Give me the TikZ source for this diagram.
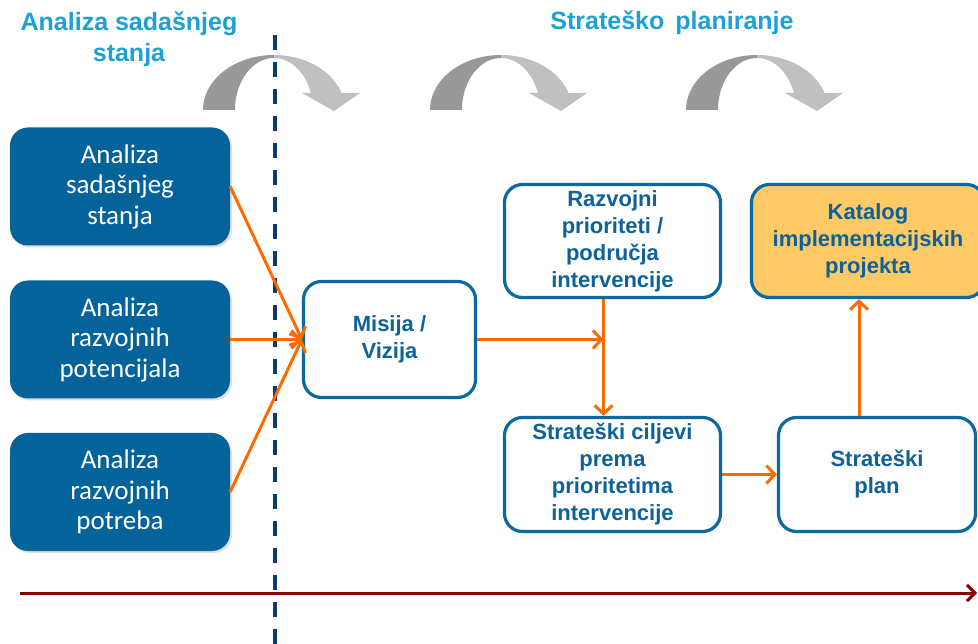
\documentclass[tikz,border=0pt]{standalone}
\usepackage{fontspec}
\setmainfont{Liberation Sans}
\newfontfamily\carlito{Carlito}
\usetikzlibrary{arrows.meta,shadows,calc}
\definecolor{boxdark}{HTML}{05639C}
\definecolor{boxblue}{HTML}{0A69A0}
\definecolor{txtblue}{HTML}{0C6299}
\definecolor{titleblue}{HTML}{1DA1D5}
\definecolor{orng}{HTML}{FF6A00}
\definecolor{axisred}{HTML}{8C0000}
\definecolor{navy}{HTML}{0E3A6C}
\definecolor{katfill}{HTML}{FFC966}
\definecolor{arcdark}{HTML}{999999}
\definecolor{arclight}{HTML}{C0C0C0}
\begin{document}
\begin{tikzpicture}[x=1pt,y=-1pt,
  leftbox/.style={rectangle,rounded corners=18pt,fill=boxdark,text=white,
    font=\carlito\fontsize{27}{30.5}\selectfont,align=center,inner sep=0pt,
    minimum width=220pt,minimum height=118pt,
    drop shadow={shadow xshift=2pt,shadow yshift=-2pt,opacity=0.25}},
  wbox/.style={rectangle,rounded corners=18pt,draw=boxblue,line width=3.2pt,fill=white,
    text=txtblue,font=\bfseries\fontsize{22}{27}\selectfont,align=center,inner sep=0pt},
  title/.style={text=titleblue,font=\bfseries\fontsize{25}{31}\selectfont,align=center,inner sep=0pt},
  oarrow/.style={draw=orng,line width=3pt,-{Straight Barb[length=8.5pt,width=18pt]}},
]
\useasboundingbox (0,0) rectangle (978,644);
\fill[white] (0,0) rectangle (978,644);

% curved arrows
\foreach \cx in {274,501,757}{
  \fill[arcdark] plot[domain=180:270,samples=40] ({\cx+71*cos(\x)},{110+55*sin(\x)})
     -- plot[domain=270:180,samples=40] ({\cx+39*cos(\x)},{110+52*sin(\x)}) -- cycle;
  \fill[arclight] plot[domain=270:342,samples=40] ({\cx+71*cos(\x)},{110+55*sin(\x)})
     -- ({\cx+86},93) -- ({\cx+60},111) -- ({\cx+28},93)
     -- plot[domain=340.9:270,samples=40] ({\cx+39*cos(\x)},{110+52*sin(\x)}) -- cycle;
}

% dashed separator
\coordinate (d1) at (275,35);
\coordinate (d2) at (275,644);
\draw[navy,line width=4pt,dash pattern=on 15pt off 12pt] (d1) -- (d2);

% titles
\node[title] (t1) at (129,39.5) {Analiza sadašnjeg\\stanja};
\node[title] (t2) at (672,23) {Strateško\, planiranje};

% left boxes
\node[leftbox] (L1) at (120,186.5) {Analiza\\sadašnjeg\\stanja};
\node[leftbox] (L2) at (120,339.5) {Analiza\\razvojnih\\potencijala};
\node[leftbox] (L3) at (120,492) {Analiza\\razvojnih\\potreba};

% white boxes
\node[wbox,minimum width=172pt,minimum height=116pt] (mis) at (389.5,339.5) {Misija /\\Vizija};
\node[wbox,minimum width=216pt,minimum height=113pt] (raz) at (612.5,241) {Razvojni\\prioriteti /\\područja\\intervencije};
\node[wbox,minimum width=216pt,minimum height=114pt] (cil) at (612.5,474.5) {Strateški ciljevi\\prema\\prioritetima\\intervencije};
\node[wbox,fill=katfill,minimum width=233pt,minimum height=113pt] (kat) at (868,241) {Katalog\\implementacijskih\\projekta};
\node[wbox,minimum width=197pt,minimum height=114pt] (plan) at (877,474.5) {Strateški\\plan};

% connectors
\draw[oarrow] (L1.east) -- (mis.west);
\draw[oarrow] (L2.east) -- (mis.west);
\draw[oarrow] (L3.east) -- (mis.west);
\draw[oarrow] (mis.east) -- ([xshift=-9pt]raz.south |- mis.east);
\draw[oarrow] ([xshift=-9pt]raz.south) -- ([xshift=-9pt]cil.north);
\draw[oarrow] (cil.east) -- (plan.west);
\draw[oarrow] ([xshift=-18pt]plan.north) -- ([xshift=-18pt]plan.north |- kat.south);

% time axis
\coordinate (ax1) at (20,593);
\coordinate (ax2) at (977,593);
\draw[axisred,line width=3pt,-{Straight Barb[length=8pt,width=16pt]},
  drop shadow={shadow xshift=1pt,shadow yshift=-2pt,opacity=0.2}] (ax1) -- (ax2);
\end{tikzpicture}
\end{document}
